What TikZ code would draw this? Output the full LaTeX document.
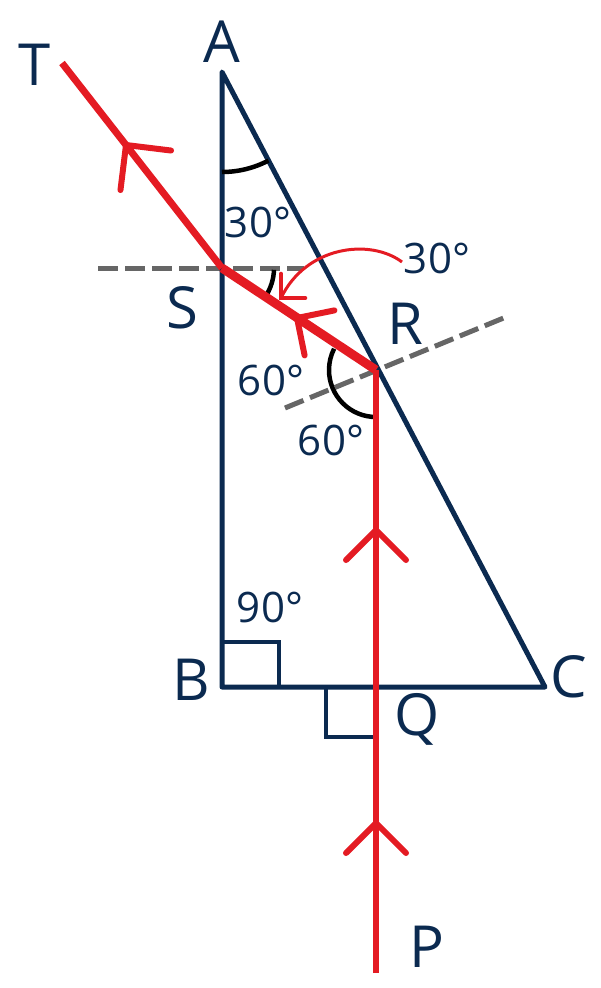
\documentclass[tikz,border=0pt]{standalone}
\usepackage{fontspec}
\setmainfont{Open Sans}
\usetikzlibrary{calc}
\definecolor{navy}{HTML}{0B2A50}
\definecolor{rayred}{HTML}{E41B23}
\definecolor{dashgray}{HTML}{666666}
\begin{document}
\begin{tikzpicture}[x=1pt,y=-1pt,
  edge/.style={draw=navy, line width=5pt, line join=round},
  rightmark/.style={draw=navy, line width=4pt, line join=miter},
  normal/.style={draw=dashgray, line width=5pt, dash pattern=on 20pt off 7pt},
  ray/.style={draw=rayred, line width=6pt, line join=round},
  chevline/.style={draw=rayred, line width=6pt, line cap=round, line join=round},
  pointer/.style={draw=rayred, line width=3pt},
  anglearc/.style={draw=black, line width=4.5pt},
  lbl/.style={font=\fontsize{58}{60}\selectfont, text=navy, anchor=base, inner sep=0pt},
  deg/.style={font=\fontsize{42}{44}\selectfont, text=navy, anchor=base, inner sep=0pt},
  chev/.pic={\draw[chevline] (-30,-30) -- (0,0) -- (-30,30);},
  smallchev/.pic={\draw[draw=rayred, line width=4.5pt, line cap=round] (-17,-17) -- (0,0) -- (-17,17);}
]
\useasboundingbox (0,0) rectangle (600,988);

% points
\coordinate (A) at (222,72);
\coordinate (B) at (222,687);
\coordinate (C) at (545,687);
\coordinate (S) at (222,268);
\coordinate (R) at (376,370);
\coordinate (Q) at (376,687);
\coordinate (P) at (376,973);
\coordinate (T) at (62,63);
\coordinate (hL) at (98,268);
\coordinate (hR) at (304,268);
\coordinate (nL) at (285,408);
\coordinate (nR) at (506,317);
\coordinate (pStart) at (402,262);
\coordinate (pEnd) at (281,298);

% normals
\draw[normal] (hL) -- (hR);
\draw[normal] (nL) -- (nR);

% prism
\draw[edge] (A) -- (B) -- (C) -- cycle;

% angle arcs
\draw[anglearc] ($(A)+(90:100)$) arc[start angle=90, end angle=62.3, radius=100];
\draw[anglearc] ($(S)+(2:52)$) arc[start angle=2, end angle=32, radius=52];
\draw[anglearc] ($(R)+(90:47)$) arc[start angle=90, end angle=207, radius=47];

% right-angle marks
\draw[rightmark] (222,642) -- (279,642) -- (279,687);
\draw[rightmark] (326,689) -- (326,737) -- (376,737);

% ray
\draw[ray] (P) -- (Q) -- (R);
\draw[ray, line width=9pt] (R) -- (S);
\draw[ray, line width=7pt] (S) -- (T);

% direction chevrons
\pic[rotate=90] at (376,530) {chev};
\pic[rotate=90] at (376,823) {chev};
\pic[rotate=128, scale=1.07] at (126,145) {chev};
\pic[rotate=146.5, scale=0.9] at (297,318) {chev};

% pointer arrow for 30 degree label
\draw[pointer] (pStart) .. controls (370,238) and (306,246) .. (pEnd);
\pic[rotate=225] at (pEnd) {smallchev};

% labels
\node[lbl] (lA) at (222,62) {A};
\node[lbl] (lT) at (35,85) {T};
\node[lbl] (lS) at (182,328) {S};
\node[lbl] (lR) at (405,344) {R};
\node[lbl] (lB) at (191,700) {B};
\node[lbl] (lC) at (569,697) {C};
\node[lbl] (lQ) at (417,735) {Q};
\node[lbl] (lP) at (427,967) {P};
\node[deg] (dA) at (258,237) {30°};
\node[deg] (dS) at (437,273) {30°};
\node[deg] (dR1) at (271,395) {60°};
\node[deg] (dR2) at (331,455) {60°};
\node[deg] (dB) at (270,622) {90°};
\end{tikzpicture}
\end{document}
